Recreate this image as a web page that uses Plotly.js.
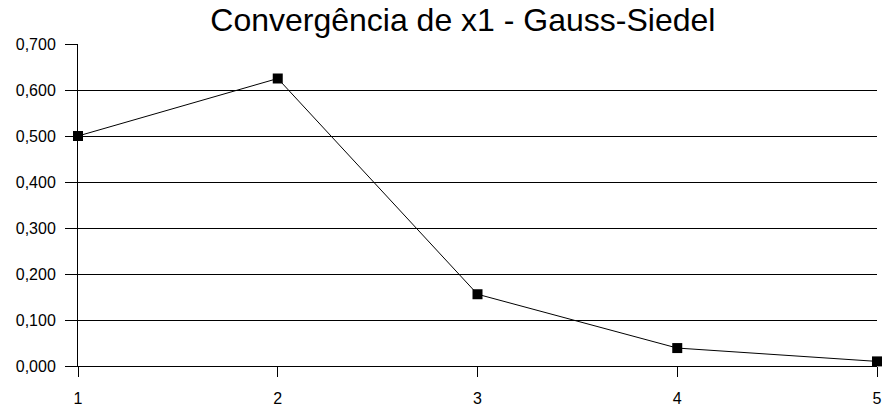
<!DOCTYPE html>
<html>
<head>
<meta charset="utf-8">
<script src="https://cdn.plot.ly/plotly-3.0.1.min.js"></script>
<style>html,body{margin:0;padding:0;background:#fff;}#chart{width:885px;height:408px;}</style>
</head>
<body>
<div id="chart"></div>
<script>
const iterations = [1, 2, 3, 4, 5];
const x1Values = [0.500, 0.625, 0.156, 0.039, 0.010];
const yTicks = [0, 0.1, 0.2, 0.3, 0.4, 0.5, 0.6, 0.7];

const trace = {
  x: iterations,
  y: x1Values,
  type: 'scatter',
  mode: 'lines+markers',
  line: {color: '#000', width: 1},
  marker: {symbol: 'square', size: 10, color: '#000'},
  cliponaxis: false,
  hoverinfo: 'none'
};

const layout = {
  width: 885, height: 408,
  margin: {l: 78, r: 8, t: 44, b: 42},
  paper_bgcolor: '#fff', plot_bgcolor: '#fff',
  separators: ',.',
  font: {family: 'Liberation Sans, Arial, sans-serif', size: 16, color: '#000'},
  title: {text: 'Convergência de x1 - Gauss-Siedel', font: {size: 32, color: '#000'}, x: 0.523, xanchor: 'center', yref: 'container', y: 0.979, yanchor: 'top', pad: {t: 0, b: 0}},
  showlegend: false,
  xaxis: {
    range: [1, 5], tickvals: iterations, ticktext: iterations.map(String),
    showgrid: false, zeroline: false, showline: true, linecolor: '#000', linewidth: 1,
    ticks: 'outside', ticklen: 10, tickcolor: '#000', tickfont: {size: 16}, ticklabelstandoff: 8
  },
  yaxis: {
    range: [0, 0.7], tickvals: yTicks, tickformat: '.3f',
    showgrid: true, gridcolor: '#000', gridwidth: 1, zeroline: false,
    showline: true, linecolor: '#000', linewidth: 1,
    ticks: 'outside', ticklen: 12, tickcolor: '#000', tickfont: {size: 16}, ticklabelstandoff: 6
  }
};

Plotly.newPlot('chart', [trace], layout, {staticPlot: true, displayModeBar: false});
</script>
</body>
</html>
